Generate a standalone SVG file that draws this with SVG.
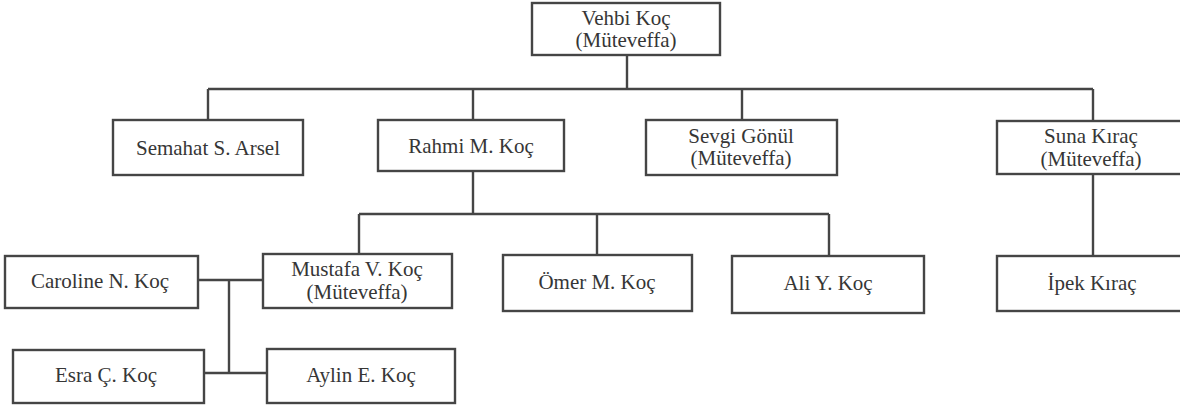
<svg xmlns="http://www.w3.org/2000/svg" width="1180" height="408" viewBox="0 0 1180 408">
  <style>
    .box { fill: #ffffff; stroke: #454545; stroke-width: 2.4; }
    .lbl { font-family: "Liberation Serif", "Times New Roman", serif; font-size: 21px; fill: #363636; text-anchor: middle; }
    .conn { fill: none; stroke: #454545; stroke-width: 2.4; }
  </style>
  <rect x="0" y="0" width="1180" height="408" fill="#ffffff"/>
  <g id="connectors">
    <path class="conn" d="M627 55 V89 M208 89 H1093 M208 89 V120 M473 89 V120 M742 89 V120 M1093 89 V121"/>
    <path class="conn" d="M473 171 V214 M359 214 H829 M359 214 V254 M597 214 V255 M829 214 V256"/>
    <path class="conn" d="M1093 174 V256"/>
    <path class="conn" d="M198 280 H263 M229 280 V373 M204 373 H267"/>
  </g>
  <g id="vehbi">
    <rect class="box" x="532" y="3" width="188" height="52"/>
    <text class="lbl" x="626" y="25">Vehbi Koç</text>
    <text class="lbl" x="626" y="47">(Müteveffa)</text>
  </g>
  <g id="semahat">
    <rect class="box" x="113" y="120" width="190" height="55"/>
    <text class="lbl" x="208" y="155">Semahat S. Arsel</text>
  </g>
  <g id="rahmi">
    <rect class="box" x="378" y="120" width="186" height="51"/>
    <text class="lbl" x="471" y="153">Rahmi M. Koç</text>
  </g>
  <g id="sevgi">
    <rect class="box" x="646" y="120" width="191" height="55"/>
    <text class="lbl" x="741" y="143">Sevgi Gönül</text>
    <text class="lbl" x="741" y="165">(Müteveffa)</text>
  </g>
  <g id="suna">
    <rect class="box" x="997" y="121" width="192" height="53"/>
    <text class="lbl" x="1091" y="143">Suna Kıraç</text>
    <text class="lbl" x="1091" y="166">(Müteveffa)</text>
  </g>
  <g id="caroline">
    <rect class="box" x="5" y="256" width="193" height="52"/>
    <text class="lbl" x="100" y="288">Caroline N. Koç</text>
  </g>
  <g id="mustafa">
    <rect class="box" x="263" y="254" width="189" height="54"/>
    <text class="lbl" x="357" y="276">Mustafa V. Koç</text>
    <text class="lbl" x="357" y="299">(Müteveffa)</text>
  </g>
  <g id="omer">
    <rect class="box" x="503" y="255" width="189" height="56"/>
    <text class="lbl" x="597" y="289">Ömer M. Koç</text>
  </g>
  <g id="ali">
    <rect class="box" x="732" y="256" width="192" height="57"/>
    <text class="lbl" x="828" y="290">Ali Y. Koç</text>
  </g>
  <g id="ipek">
    <rect class="box" x="997" y="256" width="192" height="55"/>
    <text class="lbl" x="1092" y="290">İpek Kıraç</text>
  </g>
  <g id="esra">
    <rect class="box" x="13" y="350" width="191" height="53"/>
    <text class="lbl" x="106" y="382">Esra Ç. Koç</text>
  </g>
  <g id="aylin">
    <rect class="box" x="267" y="349" width="188" height="54"/>
    <text class="lbl" x="361" y="382">Aylin E. Koç</text>
  </g>
</svg>
